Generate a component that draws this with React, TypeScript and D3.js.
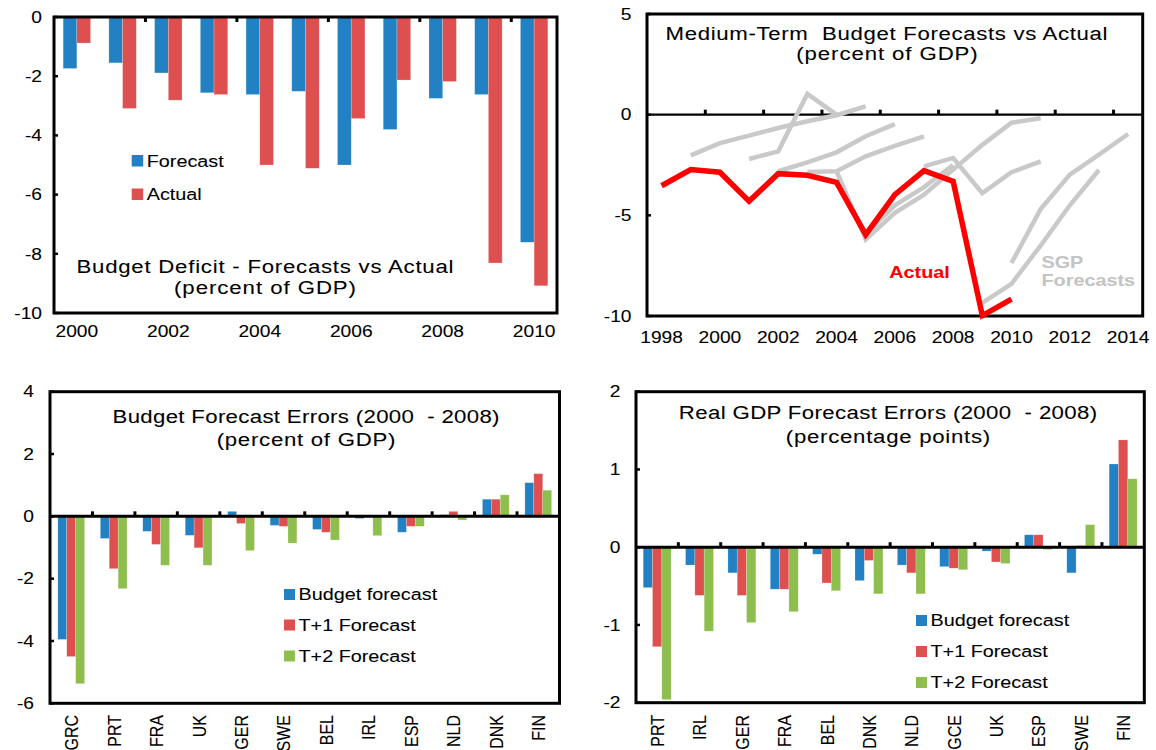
import React from 'react';
import * as d3 from 'd3';

// ---------- DATA ----------
const deficitYears = ['2000', '2001', '2002', '2003', '2004', '2005', '2006', '2007', '2008', '2009', '2010'];
const deficitForecast = [-1.74, -1.55, -1.89, -2.56, -2.62, -2.51, -5.0, -3.8, -2.75, -2.62, -7.61];
const deficitActual = [-0.88, -3.09, -2.81, -2.62, -5.0, -5.11, -3.43, -2.13, -2.18, -8.31, -9.08];
const deficitTicks = [0, -2, -4, -6, -8, -10];

const mtYears = d3.range(1998, 2015).map(String);
const mtActualStart = 1998;
const mtActual = [-3.53, -2.73, -2.86, -4.3, -2.93, -3.01, -3.36, -5.96, -3.97, -2.78, -3.31, -9.98, -9.16];
const mtTicks = [5, 0, -5, -10];
const sgpStarts = [1999, 2001, 2002, 2003, 2004, 2005, 2007, 2009, 2010];
const sgpValues = [
  [-2.02, -1.41, -1.04, -0.66, -0.33, -0.03, 0.41],
  [-2.2, -1.82, 1.03, 0.0],
  [-2.81, -2.37, -1.87, -1.07, -0.47],
  [-2.85, -2.81, -2.07, -1.55, -1.08],
  [-2.8, -6.2, -4.88, -3.97, -2.73, -1.5, -0.4, -0.18],
  [-5.9, -4.5, -3.6, -2.5],
  [-2.57, -2.15, -3.9, -2.86, -2.32],
  [-9.35, -8.4, -6.5, -4.5, -2.75],
  [-7.37, -4.69, -2.98, -1.99, -0.96],
];

const budgetCountries = ['GRC', 'PRT', 'FRA', 'UK', 'GER', 'SWE', 'BEL', 'IRL', 'ESP', 'NLD', 'DNK', 'FIN'];
const budgetFc = [-3.95, -0.71, -0.48, -0.61, 0.16, -0.29, -0.42, -0.07, -0.51, 0.05, 0.55, 1.08];
const budgetT1 = [-4.5, -1.68, -0.9, -1.01, -0.23, -0.32, -0.51, 0.0, -0.32, 0.16, 0.55, 1.37];
const budgetT2 = [-5.37, -2.32, -1.57, -1.57, -1.1, -0.86, -0.76, -0.62, -0.32, -0.12, 0.69, 0.84];
const budgetTicks = [4, 2, 0, -2, -4, -6];

const gdpCountries = ['PRT', 'IRL', 'GER', 'FRA', 'BEL', 'DNK', 'NLD', 'GCE', 'UK', 'ESP', 'SWE', 'FIN'];
const gdpFc = [-0.52, -0.23, -0.33, -0.54, -0.09, -0.43, -0.23, -0.25, -0.05, 0.16, -0.33, 1.07];
const gdpT1 = [-1.28, -0.62, -0.62, -0.54, -0.46, -0.17, -0.33, -0.27, -0.19, 0.16, 0.02, 1.38];
const gdpT2 = [-1.96, -1.08, -0.97, -0.83, -0.56, -0.6, -0.6, -0.29, -0.21, -0.03, 0.29, 0.88];
const gdpTicks = [2, 1, 0, -1, -2];

// ---------- STYLE ----------
const FONT = '"Liberation Sans", Arial, Helvetica, sans-serif';
const SX = 1.2;
const BLUE = '#2181C3';
const RED = '#DE5050';
const GREEN = '#8DBE4E';
const GRAY = '#C9C9C9';

function T({ x, y, text, anchor = 'middle', size = 16, weight = 400, fill = '#000', len, rot = false, dy }: any) {
  const tf = `translate(${x},${y}) scale(${SX},1)` + (rot ? ' rotate(-90)' : '');
  return (
    <text
      transform={tf}
      textAnchor={anchor}
      fontSize={size}
      fontWeight={weight}
      fill={fill}
      stroke={fill}
      strokeWidth={0.08}
      fontFamily={FONT}
      dy={dy}
      textLength={len ? len / SX : undefined}
      lengthAdjust={len ? 'spacing' : undefined}
    >
      {text}
    </text>
  );
}

function BarPanel({ cfg }: any) {
  const { l, t, r, b, cats, series, yDomain, yTicks, groupFrac, yLabelX, zeroLine, tickEvery, tickDir,
    labelMode, labelY, legend, title } = cfg;
  const x0 = d3.scaleBand().domain(cats).range([l, r]);
  const y = d3.scaleLinear().domain(yDomain).range([b, t]);
  const bw = x0.bandwidth();
  const gw = bw * groupFrac;
  const x1 = d3.scaleBand().domain(series.map((s: any) => s.name)).range([0, gw]);
  const y0 = y(0);
  const boundaries = d3.range(1, cats.length).filter((i) => i % tickEvery === 0);
  return (
    <g>
      {series.map((s: any) =>
        s.values.map((v: number, i: number) => {
          const xx = (x0(cats[i]) as number) + (bw - gw) / 2 + (x1(s.name) as number);
          const yy = Math.min(y(v), y0);
          const h = Math.abs(y(v) - y0);
          return <rect key={s.name + i} x={xx} y={yy} width={x1.bandwidth()} height={h} fill={s.color}
            stroke="#ffffff" strokeOpacity={0.35} strokeWidth={0.6} />;
        })
      )}
      <rect x={l} y={t} width={r - l} height={b - t} fill="none" stroke="#000" strokeWidth={3} />
      {zeroLine && <line x1={l} x2={r} y1={y0} y2={y0} stroke="#000" strokeWidth={3} />}
      {boundaries.map((i: number) => {
        const bx = l + i * bw;
        return <line key={'bt' + i} x1={bx} x2={bx} y1={y0} y2={y0 + tickDir * 5} stroke="#000" strokeWidth={3} />;
      })}
      {yTicks.map((v: number) => (
        <g key={'yt' + v}>
          <line x1={l} x2={l + 4} y1={y(v)} y2={y(v)} stroke="#000" strokeWidth={2.5} />
          <T x={yLabelX} y={y(v)} dy="0.36em" anchor="end" text={String(v)} size={16} />
        </g>
      ))}
      {cats.map((c: string, i: number) => {
        const cx = (x0(c) as number) + bw / 2;
        if (labelMode === 'rot') {
          return <T key={'xl' + c} x={cx} y={labelY} rot anchor="end" dy="0.36em" text={c} size={16} />;
        }
        if (i % 2 !== 0) return null;
        return <T key={'xl' + c} x={cx} y={labelY} text={c} size={16} />;
      })}
      {series.map((s: any, i: number) => (
        <g key={'lg' + s.name}>
          <rect x={legend.x} y={legend.ys[i]} width={legend.size} height={legend.size} fill={s.color} />
          <T x={legend.x + legend.size + 3.5} y={legend.ys[i] + legend.size} anchor="start" text={s.label} size={16.5} />
        </g>
      ))}
      {title.lines.map((ln: string, i: number) => (
        <T key={'tt' + i} x={title.cx} y={title.ys[i]} text={ln} size={18.5} len={title.lens[i]} />
      ))}
    </g>
  );
}

function LinePanel() {
  const l = 647, t = 14, r = 1142.7, b = 316;
  const x0 = d3.scaleBand().domain(mtYears).range([l, r]);
  const bw = x0.bandwidth();
  const xc = (yr: number) => (x0(String(yr)) as number) + bw / 2;
  const y = d3.scaleLinear().domain([-10, 5]).range([b, t]);
  const line = d3.line<[number, number]>().x((d) => xc(d[0])).y((d) => y(d[1]));
  const actualPts: [number, number][] = mtActual.map((v, i) => [mtActualStart + i, v]);
  const boundaries = d3.range(1, mtYears.length).filter((i) => i % 2 === 0);
  return (
    <g>
      <rect x={l} y={t} width={r - l} height={b - t} fill="none" stroke="#000" strokeWidth={3} />
      <line x1={l} x2={r} y1={y(0)} y2={y(0)} stroke="#000" strokeWidth={2.2} />
      {boundaries.map((i) => {
        const bx = l + i * bw;
        return <line key={'bt' + i} x1={bx} x2={bx} y1={y(0)} y2={y(0) - 5} stroke="#000" strokeWidth={3} />;
      })}
      {sgpValues.map((vals, k) => {
        const pts: [number, number][] = vals.map((v, i) => [sgpStarts[k] + i, v]);
        return <path key={'sgp' + k} d={line(pts) as string} fill="none" stroke={GRAY} strokeWidth={4.5} />;
      })}
      <path d={line(actualPts) as string} fill="none" stroke="#FF0000" strokeWidth={5.5} />
      {mtTicks.map((v) => (
        <g key={'yt' + v}>
          <line x1={l} x2={l + 4} y1={y(v)} y2={y(v)} stroke="#000" strokeWidth={2.5} />
          <T x={631.5} y={y(v)} dy="0.36em" anchor="end" text={String(v)} size={16} />
        </g>
      ))}
      {mtYears.map((yr, i) =>
        i % 2 === 0 ? <T key={'xl' + yr} x={xc(+yr)} y={342.5} text={yr} size={16} /> : null
      )}
      <T x={919.5} y={277.5} text="Actual" size={16.5} weight={700} fill="#FF0000" />
      <T x={1041.5} y={268} anchor="start" text="SGP" size={16.5} weight={700} fill="#C4C4C4" />
      <T x={1041.5} y={285.5} anchor="start" text="Forecasts" size={16.5} weight={700} fill="#C4C4C4" />
      <T x={886.5} y={39.5} text={'Medium-Term\u00A0\u00A0Budget Forecasts vs Actual'} size={18.5} len={442} />
      <T x={887} y={60} text="(percent of GDP)" size={18.5} len={181.4} />
    </g>
  );
}

const tlCfg = {
  l: 54, t: 17, r: 557, b: 313,
  cats: deficitYears,
  series: [
    { name: 'f', label: 'Forecast', values: deficitForecast, color: BLUE },
    { name: 'a', label: 'Actual', values: deficitActual, color: RED },
  ],
  yDomain: [-10, 0], yTicks: deficitTicks, groupFrac: 0.6, yLabelX: 42,
  zeroLine: false, tickEvery: 2, tickDir: 1, labelMode: 'h', labelY: 337,
  legend: { x: 131.7, ys: [155, 188.5], size: 11.5 },
  title: { cx: 265, ys: [273, 293.5], lines: ['Budget Deficit - Forecasts vs Actual', '(percent of GDP)'], lens: [377, 182] },
};

const blCfg = {
  l: 50, t: 391.7, r: 559.5, b: 703.3,
  cats: budgetCountries,
  series: [
    { name: 'b', label: 'Budget forecast', values: budgetFc, color: BLUE },
    { name: 't1', label: 'T+1 Forecast', values: budgetT1, color: RED },
    { name: 't2', label: 'T+2 Forecast', values: budgetT2, color: GREEN },
  ],
  yDomain: [-6, 4], yTicks: budgetTicks, groupFrac: 0.63, yLabelX: 34,
  zeroLine: true, tickEvery: 1, tickDir: -1, labelMode: 'rot', labelY: 715,
  legend: { x: 284, ys: [589, 619.5, 650.5], size: 11 },
  title: { cx: 306, ys: [422.7, 446], lines: ['Budget Forecast Errors (2000\u00A0\u00A0- 2008)', '(percent of GDP)'], lens: [387, 178.7] },
};

const brCfg = {
  l: 636, t: 391.7, r: 1144.3, b: 702.7,
  cats: gdpCountries,
  series: [
    { name: 'b', label: 'Budget forecast', values: gdpFc, color: BLUE },
    { name: 't1', label: 'T+1 Forecast', values: gdpT1, color: RED },
    { name: 't2', label: 'T+2 Forecast', values: gdpT2, color: GREEN },
  ],
  yDomain: [-2, 2], yTicks: gdpTicks, groupFrac: 0.66, yLabelX: 620.5,
  zeroLine: true, tickEvery: 1, tickDir: -1, labelMode: 'rot', labelY: 715,
  legend: { x: 916, ys: [615, 646, 677], size: 11 },
  title: { cx: 888, ys: [419.3, 442.5], lines: ['Real GDP Forecast Errors (2000\u00A0\u00A0- 2008)', '(percentage points)'], lens: [418.3, 204.5] },
};

export default function App() {
  return (
    <svg width={1156} height={750} style={{ position: 'absolute', left: 0, top: 0, background: '#fff' }}>
      <rect x={0} y={0} width={1156} height={750} fill="#fff" />
      <BarPanel cfg={tlCfg} />
      <LinePanel />
      <BarPanel cfg={blCfg} />
      <BarPanel cfg={brCfg} />
    </svg>
  );
}
